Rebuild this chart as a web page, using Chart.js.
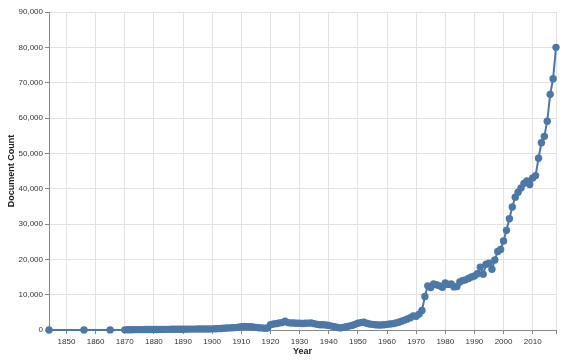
<!DOCTYPE html>
<html>
<head>
<meta charset="utf-8">
<script src="https://cdn.jsdelivr.net/npm/chart.js@4"></script>
<style>
  html, body { margin: 0; padding: 0; background: #fff; }
  #wrap { width: 567px; height: 363px; }
</style>
</head>
<body>
<div id="wrap"><canvas id="myChart" width="567" height="363"></canvas></div>
<script>
// Data block
const years = [1844, 1856, 1865, 1870,
  1871, 1872, 1873, 1874, 1875, 1876, 1877, 1878, 1879,
  1880, 1881, 1882, 1883, 1884, 1885, 1886, 1887, 1888, 1889,
  1890, 1891, 1892, 1893, 1894, 1895, 1896, 1897, 1898, 1899,
  1900, 1901, 1902, 1903, 1904, 1905, 1906, 1907, 1908, 1909,
  1910, 1911, 1912, 1913, 1914, 1915, 1916, 1917, 1918, 1919,
  1920, 1921, 1922, 1923, 1924, 1925, 1926, 1927, 1928, 1929,
  1930, 1931, 1932, 1933, 1934, 1935, 1936, 1937, 1938, 1939,
  1940, 1941, 1942, 1943, 1944, 1945, 1946, 1947, 1948, 1949,
  1950, 1951, 1952, 1953, 1954, 1955, 1956, 1957, 1958, 1959,
  1960, 1961, 1962, 1963, 1964, 1965, 1966, 1967, 1968, 1969,
  1970, 1971, 1972, 1973, 1974, 1975, 1976, 1977, 1978, 1979,
  1980, 1981, 1982, 1983, 1984, 1985, 1986, 1987, 1988, 1989,
  1990, 1991, 1992, 1993, 1994, 1995, 1996, 1997, 1998, 1999,
  2000, 2001, 2002, 2003, 2004, 2005, 2006, 2007, 2008, 2009,
  2010, 2011, 2012, 2013, 2014, 2015, 2016, 2017, 2018];

const docCounts = [10, 20, 30, 40,
  80, 90, 100, 110, 120, 120, 130, 140, 150,
  150, 160, 170, 170, 180, 190, 200, 200, 210, 220,
  230, 240, 250, 250, 260, 270, 280, 290, 300, 300,
  320, 350, 380, 420, 480, 550, 600, 620, 680, 800,
  950, 1000, 950, 900, 850, 750, 650, 600, 500, 550,
  1500, 1700, 1800, 2000, 2100, 2500, 2100, 2000, 2000, 1900,
  1900, 1850, 1900, 1950, 2000, 1800, 1600, 1500, 1500, 1400,
  1300, 1100, 900, 750, 600, 750, 900, 1100, 1300, 1600,
  1900, 2100, 2200, 1900, 1700, 1600, 1500, 1400, 1400, 1500,
  1600, 1700, 1800, 2000, 2200, 2500, 2800, 3100, 3500, 4000,
  3900, 4500, 5500, 9500, 12500, 12000, 13000, 12800, 12500, 12100,
  13300, 12900, 13000, 12200, 12300, 13600, 14000, 14200, 14600, 15000,
  15300, 15900, 17800, 15800, 18600, 18900, 17200, 19800, 22200, 22800,
  25200, 28200, 31500, 34800, 37600, 39000, 40200, 41500, 42200, 41200,
  43000, 43700, 48600, 53000, 54800, 59100, 66700, 71100, 80000];

const yTicks = [0, 10000, 20000, 30000, 40000, 50000, 60000, 70000, 80000, 90000];
const xTickYears = [1850, 1860, 1870, 1880, 1890, 1900, 1910, 1920, 1930, 1940, 1950, 1960, 1970, 1980, 1990, 2000, 2010];

const points = years.map((y, i) => ({ x: y, y: docCounts[i] }));

const blue = "#4c78a8";
const axisFont = { family: "'Liberation Sans', Arial, sans-serif", size: 8 };
const titleFont = { family: "'Liberation Sans', Arial, sans-serif", size: 9, weight: "bold" };

//Config block
const config = {
  type: "scatter",
  data: {
    datasets: [
      {
        label: "Document Count",
        data: points,
        showLine: true,
        clip: false,
        borderColor: blue,
        borderWidth: 2,
        backgroundColor: blue,
        pointRadius: 3.7,
        pointBorderWidth: 0,
        pointHoverRadius: 3.7,
      },
    ],
  },
  options: {
    responsive: false,
    animation: false,
    layout: {
      padding: { left: 0, right: 11, top: 12, bottom: 0 },
    },
    plugins: {
      legend: { display: false },
      tooltip: { enabled: false },
    },
    scales: {
      x: {
        type: "linear",
        min: 1844,
        max: 2018,
        afterBuildTicks: (scale) => {
          scale.ticks = xTickYears.map((v) => ({ value: v })).concat([{ value: 2018 }]);
        },
        afterFit: (scale) => {
          scale.height = 33;
        },
        grid: {
          color: "#e2e2e2",
          tickColor: "#888",
          tickLength: 4,
        },
        border: { color: "#888" },
        ticks: {
          font: axisFont,
          color: "#333",
          padding: 3,
          maxRotation: 0,
          autoSkip: false,
          callback: (v) => (xTickYears.includes(v) ? String(v) : ""),
        },
        title: {
          display: true,
          text: "Year",
          font: titleFont,
          color: "#222",
          padding: { top: 2, bottom: 6 },
        },
      },
      y: {
        min: 0,
        max: 90000,
        afterBuildTicks: (scale) => {
          scale.ticks = yTicks.map((v) => ({ value: v }));
        },
        afterFit: (scale) => {
          scale.width = 49;
        },
        grid: {
          color: "#e2e2e2",
          tickColor: "#888",
          tickLength: 4,
        },
        border: { color: "#888" },
        ticks: {
          font: axisFont,
          color: "#333",
          padding: 2,
          callback: (v) => v.toLocaleString("en-US"),
        },
        title: {
          display: true,
          text: "Document Count",
          font: titleFont,
          color: "#222",
          padding: { top: 6, bottom: 4 },
        },
      },
    },
  },
};

// Render block
const myChart = new Chart(document.getElementById("myChart"), config);
</script>
</body>
</html>
